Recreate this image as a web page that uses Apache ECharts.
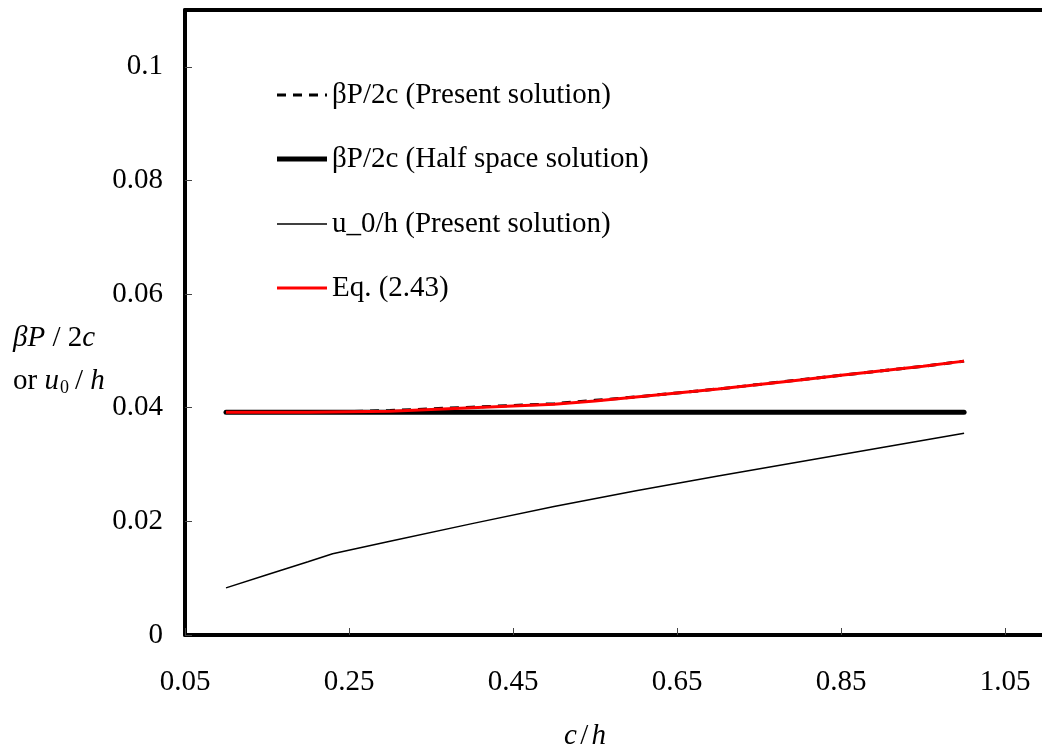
<!DOCTYPE html>
<html>
<head>
<meta charset="utf-8">
<script src="https://cdn.jsdelivr.net/npm/echarts@6/dist/echarts.min.js"></script>
<style>
html,body{margin:0;padding:0;background:#fff;}
#chart{width:1042px;height:751px;}
</style>
</head>
<body>
<div id="chart"></div>
<script>
// c/h values for each series
const xRed = [0.1,0.15,0.2,0.25,0.3,0.35,0.4,0.45,0.5,0.55,0.6,0.65,0.7,0.75,0.8,0.85,0.9,0.95,1.0];
const presentBeta = [0.0392,0.0392,0.0392,0.0393,0.0395,0.0398,0.0401,0.0404,0.0407,0.0413,0.0419,0.0426,0.0433,0.0441,0.0449,0.0457,0.0465,0.0473,0.0482];
const eq243 = [0.0392,0.0392,0.0392,0.0393,0.0394,0.0397,0.0400,0.0403,0.0406,0.0412,0.0419,0.0426,0.0433,0.0441,0.0449,0.0457,0.0465,0.0473,0.0482];
const xHalf = [0.1,1.0];
const halfSpace = [0.0392,0.0392];
const xU0 = [0.1,0.15,0.2,0.23,0.3,0.4,0.5,0.6,0.7,0.8,0.9,1.0];
const u0h = [0.0083,0.0106,0.0129,0.0143,0.0165,0.0196,0.0226,0.0254,0.0280,0.0305,0.0330,0.0355];
const legendNames = ['βP/2c (Present solution)','βP/2c (Half space solution)','u_0/h (Present solution)','Eq. (2.43)'];
const yTicks = {min:0, max:0.11, interval:0.02};
const xTicks = {min:0.05, max:1.095, interval:0.2};

const zip = (xs, ys) => xs.map((x,i)=>[x,ys[i]]);
const FONT = '"Liberation Serif","Times New Roman",serif';
const FS = 29;

const seriesStyles = [
  {color:'#000', width:3, type:[9,7]},
  {color:'#000', width:5, type:'solid'},
  {color:'#000', width:1.5, type:'solid'},
  {color:'#ff0000', width:3, type:'solid'}
];
const legendY = [95, 159, 224, 288];

const legendGraphics = [];
legendNames.forEach((name, i) => {
  legendGraphics.push({type:'line', shape:{x1:277, y1:legendY[i], x2:327, y2:legendY[i]},
    style:{stroke:seriesStyles[i].color, lineWidth:seriesStyles[i].width,
      lineDash: Array.isArray(seriesStyles[i].type) ? seriesStyles[i].type : null}});
  legendGraphics.push({type:'text', x:332, y:legendY[i],
    style:{text:name, font:FS+'px '+FONT, fill:'#000', verticalAlign:'middle', align:'left'}});
});

const chart = echarts.init(document.getElementById('chart'));
chart.setOption({
  animation:false,
  backgroundColor:'#fff',
  grid:{left:185, top:10, bottom:116, right:0, show:false, containLabel:false},
  xAxis:[{
    type:'value', min:xTicks.min, max:xTicks.max, interval:xTicks.interval,
    axisLine:{lineStyle:{color:'#000', width:4}},
    axisTick:{inside:true, length:7, lineStyle:{color:'#444', width:1}},
    splitLine:{show:false},
    axisLabel:{margin:33, fontFamily:FONT, fontSize:FS, color:'#000', showMaxLabel:false,
      formatter:v=> (v>1.06?'':String(parseFloat(v.toFixed(2))))}
  },{
    type:'value', position:'top', min:xTicks.min, max:xTicks.max,
    axisLine:{show:true, lineStyle:{color:'#000', width:4}},
    axisTick:{show:false}, axisLabel:{show:false}, splitLine:{show:false}
  }],
  yAxis:{
    type:'value', min:yTicks.min, max:yTicks.max, interval:yTicks.interval,
    axisLine:{lineStyle:{color:'#000', width:4}},
    axisTick:{inside:true, length:7, lineStyle:{color:'#444', width:1}},
    splitLine:{show:false},
    axisLabel:{margin:22, fontFamily:FONT, fontSize:FS, color:'#000', showMaxLabel:false,
      formatter:v=> (v>0.105?'':String(parseFloat(v.toFixed(2))))}
  },
  graphic:[
    {type:'text', left:13, top:324, style:{
      text:'{i|βP}{n| / 2}{i|c}',
      rich:{i:{fontFamily:FONT, fontSize:FS, fontStyle:'italic', fill:'#000'}, n:{fontFamily:FONT, fontSize:FS, fill:'#000'}}
    }},
    {type:'text', left:13, top:367, style:{
      text:'{n|or }{i|u}{s|0}{n|/ }{i|h}',
      rich:{i:{fontFamily:FONT, fontSize:FS, fontStyle:'italic', fill:'#000'}, n:{fontFamily:FONT, fontSize:FS, fill:'#000'},
            s:{fontFamily:FONT, fontSize:18, fill:'#000', verticalAlign:'bottom', padding:[14,6,0,1]}}
    }},
    {type:'text', left:564, top:722, style:{
      text:'{i|c} {n|/} {i|h}',
      rich:{i:{fontFamily:FONT, fontSize:FS, fontStyle:'italic', fill:'#000'}, n:{fontFamily:FONT, fontSize:FS, fill:'#000'}}
    }}
  ].concat(legendGraphics),
  series:[
    {name:legendNames[1], type:'line', data:zip(xHalf, halfSpace), symbol:'none', z:2,
      lineStyle:{color:seriesStyles[1].color, width:seriesStyles[1].width, cap:'round'}},
    {name:legendNames[0], type:'line', data:zip(xRed, presentBeta), symbol:'none', z:3,
      lineStyle:{color:seriesStyles[0].color, width:seriesStyles[0].width, type:seriesStyles[0].type}},
    {name:legendNames[2], type:'line', data:zip(xU0, u0h), symbol:'none', z:3,
      lineStyle:{color:seriesStyles[2].color, width:seriesStyles[2].width}},
    {name:legendNames[3], type:'line', data:zip(xRed, eq243), symbol:'none', z:4,
      lineStyle:{color:seriesStyles[3].color, width:seriesStyles[3].width}}
  ]
});
</script>
</body>
</html>
